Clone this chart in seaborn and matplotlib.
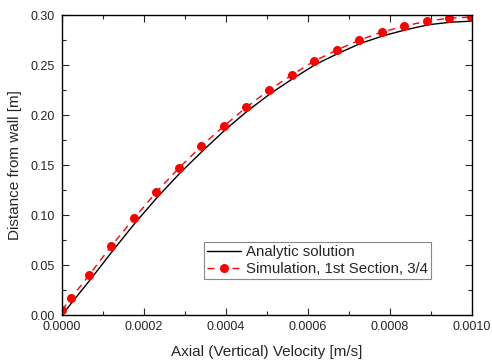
import numpy as np
import pandas as pd
import seaborn as sns
import matplotlib.pyplot as plt
from matplotlib.ticker import MultipleLocator, FormatStrFormatter

# Simulation points (red markers)
sim_velocity = [0.0, 2.2e-5, 6.6e-5, 1.2e-4, 1.76e-4, 2.3e-4, 2.85e-4, 3.4e-4, 3.95e-4, 4.5e-4,
                5.05e-4, 5.6e-4, 6.15e-4, 6.7e-4, 7.25e-4, 7.8e-4, 8.35e-4, 8.9e-4, 9.45e-4, 9.98e-4]
sim_distance = [0.005, 0.017, 0.040, 0.069, 0.097, 0.123, 0.147, 0.169, 0.189, 0.208,
                0.225, 0.240, 0.254, 0.265, 0.275, 0.283, 0.289, 0.294, 0.297, 0.298]

# Analytic solution (black line)
ana_velocity = [0.0, 2.5e-5, 7e-5, 1.25e-4, 1.8e-4, 2.35e-4, 2.9e-4, 3.45e-4, 4e-4, 4.55e-4,
                5.1e-4, 5.65e-4, 6.2e-4, 6.75e-4, 7.3e-4, 7.85e-4, 8.4e-4, 8.95e-4, 9.5e-4, 1e-3]
ana_distance = [0.0, 0.013, 0.036, 0.065, 0.093, 0.119, 0.143, 0.165, 0.186, 0.205,
                0.222, 0.237, 0.251, 0.262, 0.272, 0.2795, 0.2855, 0.2905, 0.293, 0.294]

sim = pd.DataFrame({"v": sim_velocity, "d": sim_distance})
ana = pd.DataFrame({"v": ana_velocity, "d": ana_distance})

sns.set_style("ticks")
plt.rcParams['font.family'] = ['Liberation Sans', 'DejaVu Sans']

fig = plt.figure(figsize=(4.92, 3.61), dpi=100)
ax = fig.add_axes([0.126, 0.127, 0.833, 0.831])

sns.lineplot(data=ana, x="v", y="d", ax=ax, color="black", linewidth=1.0,
             label="Analytic solution", sort=False)
sns.lineplot(data=sim, x="v", y="d", ax=ax, color="#ff0000", linewidth=1.0,
             linestyle=(0, (5, 4)), marker="o", markersize=6.5, markeredgewidth=0,
             label="Simulation, 1st Section, 3/4", sort=False)

ax.set_xlim(0, 0.001)
ax.set_ylim(0, 0.30)
ax.xaxis.set_major_locator(MultipleLocator(0.0002))
ax.xaxis.set_minor_locator(MultipleLocator(0.0001))
ax.yaxis.set_major_locator(MultipleLocator(0.05))
ax.yaxis.set_minor_locator(MultipleLocator(0.025))
ax.xaxis.set_major_formatter(FormatStrFormatter("%.4f"))
ax.yaxis.set_major_formatter(FormatStrFormatter("%.2f"))
ax.tick_params(which="both", direction="in", top=True, right=True, labelsize=9, width=0.8)
ax.tick_params(which="major", length=5)
ax.tick_params(which="minor", length=3)
ax.tick_params(axis="x", which="major", pad=4)
ax.tick_params(axis="y", which="major", pad=5)
for s in ax.spines.values():
    s.set_linewidth(1.0)
    s.set_color("black")

ax.set_xlabel("Axial (Vertical) Velocity [m/s]", fontsize=11, labelpad=9)
ax.set_ylabel("Distance from wall [m]", fontsize=11, labelpad=6)

leg = ax.legend(loc="lower right", bbox_to_anchor=(0.9, 0.12), fontsize=10.8,
                frameon=True, fancybox=False, edgecolor="#888888", framealpha=1,
                handlelength=2.3, borderpad=0.2, labelspacing=0.2, handletextpad=0.3,
                borderaxespad=0)
leg.get_frame().set_linewidth(0.8)

fig.savefig("out.png", dpi=100)
